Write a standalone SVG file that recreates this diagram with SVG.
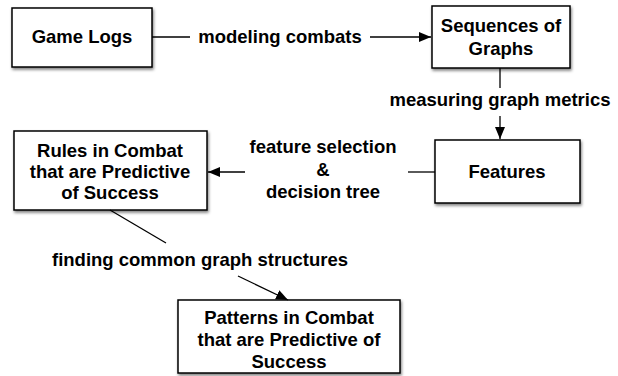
<svg xmlns="http://www.w3.org/2000/svg" width="618" height="376" viewBox="0 0 618 376">
<defs>
<filter id="sh" x="-10%" y="-10%" width="130%" height="140%">
<feGaussianBlur in="SourceAlpha" stdDeviation="1.5"/>
<feOffset dx="1" dy="2" result="b"/>
<feComponentTransfer><feFuncA type="linear" slope="0.5"/></feComponentTransfer>
<feMerge><feMergeNode/><feMergeNode in="SourceGraphic"/></feMerge>
</filter>
<marker id="ah" viewBox="0 0 12 10" refX="12" refY="5" markerWidth="12" markerHeight="10" markerUnits="userSpaceOnUse" orient="auto">
<path d="M0,0 L12,5 L0,10 z" fill="#000"/>
</marker>
</defs>
<style>
.box{fill:#fff;stroke:#000;stroke-width:1.5;filter:url(#sh)}
.t{font-family:"Liberation Sans",Arial,sans-serif;font-weight:bold;font-size:18.5px;fill:#000;text-anchor:middle}
.c{stroke:#000;stroke-width:1.3;fill:none}
</style>
<g id="game-logs"><rect class="box" x="12" y="8" width="140" height="59"/><text class="t" x="82" y="43">Game Logs</text></g>
<g id="sequences"><rect class="box" x="432" y="6" width="138" height="62"/><text class="t" x="501" y="32">Sequences of</text><text class="t" x="501" y="55">Graphs</text></g>
<g id="features"><rect class="box" x="435" y="140" width="145" height="63"/><text class="t" x="507" y="178">Features</text></g>
<g id="rules"><rect class="box" x="14" y="131" width="193" height="79"/><text class="t" x="110" y="157">Rules in Combat</text><text class="t" x="110" y="178">that are Predictive</text><text class="t" x="110" y="199">of Success</text></g>
<g id="patterns"><rect class="box" x="178" y="300" width="222" height="73"/><text class="t" x="289" y="324">Patterns in Combat</text><text class="t" x="289" y="346">that are Predictive of</text><text class="t" x="289" y="368">Success</text></g>
<g id="connectors">
<line class="c" x1="152" y1="37" x2="190" y2="37"/>
<text class="t" x="280" y="43">modeling combats</text>
<line class="c" x1="370" y1="37" x2="431" y2="37" marker-end="url(#ah)"/>
<line class="c" x1="500" y1="68" x2="500" y2="88"/>
<text class="t" x="500" y="106">measuring graph metrics</text>
<line class="c" x1="500" y1="116" x2="500" y2="139" marker-end="url(#ah)"/>
<line class="c" x1="435" y1="172" x2="408" y2="172"/>
<text class="t" x="323" y="153">feature selection</text>
<text class="t" x="323" y="176">&amp;</text>
<text class="t" x="323" y="198">decision tree</text>
<line class="c" x1="245" y1="172" x2="208" y2="172" marker-end="url(#ah)"/>
<line class="c" x1="110" y1="210" x2="166" y2="243"/>
<text class="t" x="200" y="266">finding common graph structures</text>
<line class="c" x1="238" y1="276" x2="288" y2="300" marker-end="url(#ah)"/>
</g>
</svg>
